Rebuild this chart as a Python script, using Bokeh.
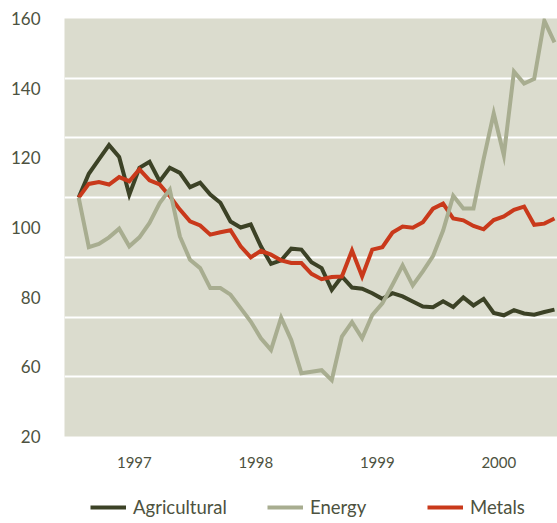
from bokeh.plotting import figure
from bokeh.layouts import column
from bokeh.models import FixedTicker, Legend, LegendItem, Range1d
from bokeh.embed import file_html
from bokeh.resources import INLINE

# monthly index, Jan 1997 .. Dec 2000
months = list(range(48))

agricultural = [100, 108, 112.8, 117.6, 113.6, 101, 110, 112, 105.5, 110, 108.3, 103.5,
                105, 101, 98.3, 92, 90, 91, 83.7, 77.8, 79, 82.9, 82.6, 78.4,
                76.4, 69.1, 73.6, 69.9, 69.5, 68, 66.1, 68, 66.9, 65.2, 63.5, 63.3,
                65.3, 63.4, 66.6, 63.9, 66.1, 61.4, 60.6, 62.3, 61.2, 60.8, 61.7, 62.5]

energy = [100, 83.4, 84.5, 86.7, 89.6, 83.7, 86.7, 91.5, 98.2, 102.7, 87, 79.2,
          76.4, 69.7, 69.7, 67.5, 63, 58.5, 52.9, 49, 59.8, 52.3, 41.2, 41.7,
          42.2, 38.9, 53.5, 58.3, 52.9, 60.7, 64.6, 70.8, 77.3, 70.6, 75.3, 80.4,
          89, 100.6, 96.4, 96.4, 112.9, 128.2, 114.2, 142.2, 138.2, 139.8, 159.3, 152]

metals = [100, 104.6, 105.2, 104.4, 106.9, 105.5, 109.5, 105.8, 104.4, 100.5, 96, 92.1,
          90.7, 87.6, 88.4, 89.1, 83.7, 80, 82.2, 80.9, 79, 78.1, 78.1, 74.5,
          72.7, 73.4, 73.6, 82.3, 73.6, 82.6, 83.4, 88.3, 90.3, 89.9, 91.8, 96.3,
          98, 93, 92.4, 90.5, 89.4, 92.5, 93.7, 95.9, 97, 90.9, 91.3, 93]

series_names = ["Agricultural", "Energy", "Metals"]
series_colors = ["#3C4226", "#A8AD90", "#C9391B"]

year_labels = ["1997", "1998", "1999", "2000"]
y_tick_labels = ["20", "60", "80", "100", "120", "140", "160"]
grid_values = [40, 60, 80, 100, 120, 140]

TEXT = "#4D5240"
FONT = "Lato"

p = figure(frame_width=493, frame_height=418, output_backend="svg", toolbar_location=None,
           x_range=Range1d(-1.4, 47.3), y_range=Range1d(20, 160),
           min_border_left=64, min_border_right=0, min_border_top=18, min_border_bottom=50,
           background_fill_color="#DBDCCE", border_fill_color="white",
           outline_line_color=None)

# y axis: labels spread evenly over the range, as in the original
y_lo, y_hi = 20, 160
y_ticks = [y_lo + k * (y_hi - y_lo) / (len(y_tick_labels) - 1) for k in range(len(y_tick_labels))]
p.yaxis.ticker = FixedTicker(ticks=y_ticks)
p.yaxis.major_label_overrides = {t: l for t, l in zip(y_ticks, y_tick_labels)}
p.yaxis.major_label_standoff = 18
p.yaxis.major_label_text_font_size = "17px"

x_ticks = [5.5 + 12 * k for k in range(len(year_labels))]
p.xaxis.ticker = FixedTicker(ticks=x_ticks)
p.xaxis.major_label_overrides = {t: l for t, l in zip(x_ticks, year_labels)}
p.xaxis.major_label_standoff = 14
p.xaxis.major_label_text_font_size = "15px"

for ax in (p.xaxis, p.yaxis):
    ax.axis_line_color = None
    ax.major_tick_line_color = None
    ax.minor_tick_line_color = None
    ax.major_label_text_color = TEXT
    ax.major_label_text_font = FONT

p.xgrid.visible = False
p.ygrid.ticker = FixedTicker(ticks=grid_values)
p.ygrid.grid_line_color = "white"
p.ygrid.grid_line_width = 2

p.line(months, agricultural, line_color=series_colors[0], line_width=4, line_join="miter")
p.line(months, metals, line_color=series_colors[2], line_width=4, line_join="miter")
p.line(months, energy, line_color=series_colors[1], line_width=4, line_join="miter")

# legend strip below the chart (its frame is aligned with the chart's frame)
leg = figure(width=557, height=37, output_backend="svg", toolbar_location=None,
             x_axis_type=None, y_axis_type=None,
             x_range=Range1d(0, 1), y_range=Range1d(0, 1),
             min_border_left=0, min_border_right=0, min_border_top=0, min_border_bottom=0,
             background_fill_color="white", border_fill_color="white",
             outline_line_color=None)
leg.xgrid.visible = False
leg.ygrid.visible = False

legend_offsets = [26, 203, 363]   # screen px from the strip's left edge
for name, col, off in zip(series_names, series_colors, legend_offsets):
    # legend-only key renderers: a single undefined point draws nothing in the strip
    r = leg.line(x=[float("nan")], y=[float("nan")], line_color=col, line_width=4)
    lg = Legend(items=[LegendItem(label=name, renderers=[r])],
                orientation="horizontal", location=(off, 5),
                border_line_color=None, background_fill_alpha=0,
                glyph_width=36, glyph_height=20, label_standoff=7,
                padding=0, margin=0,
                label_text_font=FONT, label_text_font_size="18.5px", label_text_color=TEXT)
    leg.add_layout(lg)

layout = column(p, leg, spacing=0)
open("out.html", "w").write(file_html(layout, INLINE))
